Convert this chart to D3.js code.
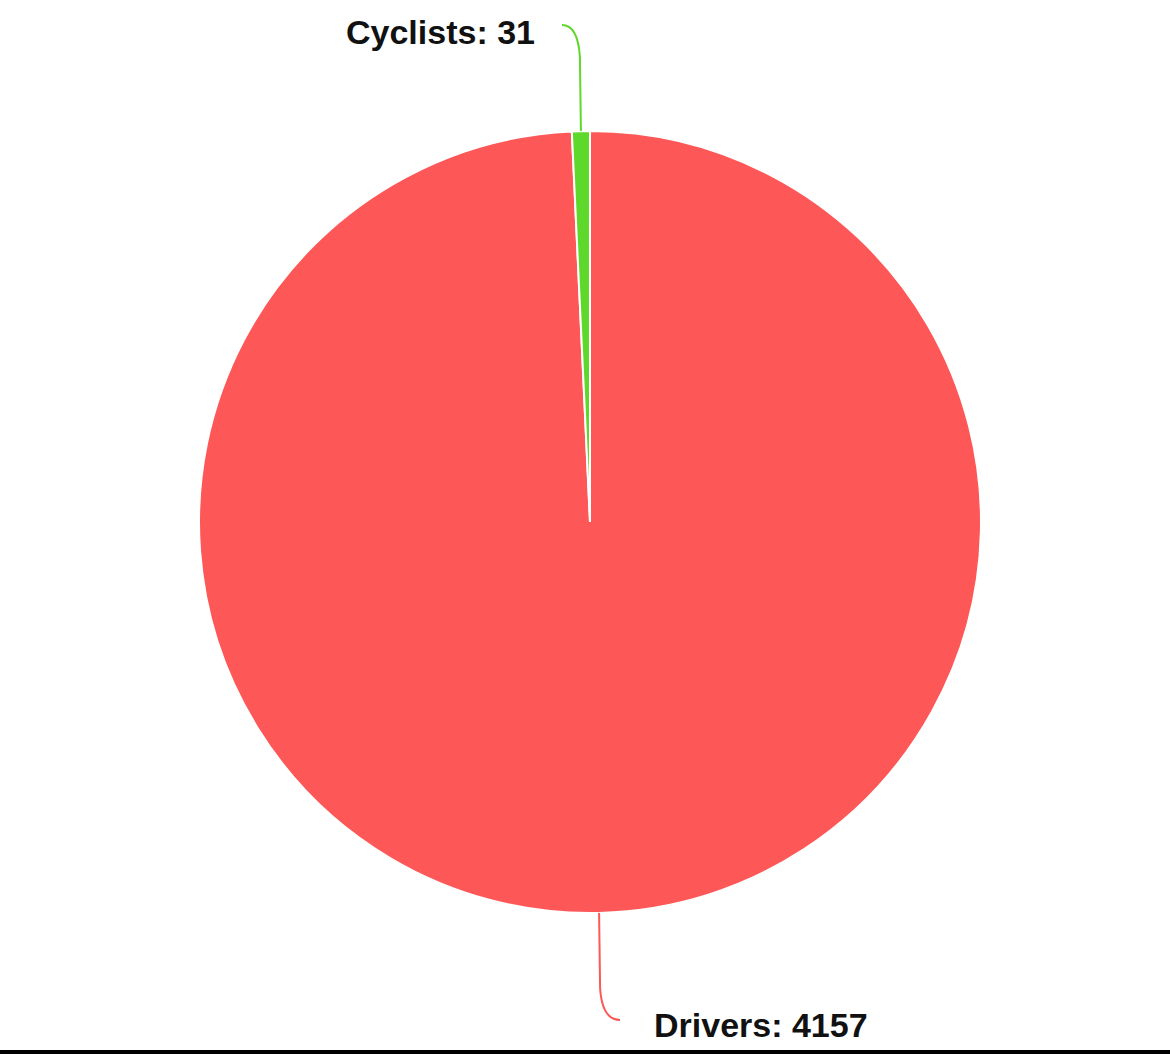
<!DOCTYPE html>
<html>
<head>
<meta charset="utf-8">
<script src="https://cdn.jsdelivr.net/npm/d3@7"></script>
<style>
  body { margin: 0; background: #fff; }
  text { font-family: "Liberation Sans", Arial, sans-serif; font-weight: bold; }
</style>
</head>
<body>
<div id="container"></div>
<script>
const categories = ["Drivers", "Cyclists"]
const values = [4157, 31]
const colors = ["#fe5757", "#5ed82a"]

const width = 1170
const height = 1054
const cx = 590, cy = 522, radius = 391

const svg = d3.select('#container')
    .append('svg').attr('width', width).attr('height', height)

const data = categories.map((c, i) => ({ name: c, value: values[i], color: colors[i] }))
const pie = d3.pie().sort(null).value(d => d.value)
const arc = d3.arc().innerRadius(0).outerRadius(radius)
const arcs = pie(data)

const g = svg.append("g").attr("transform", `translate(${cx},${cy})`)

g.selectAll("path.slice")
    .data(arcs)
    .enter().append("path")
    .attr("class", "slice")
    .attr("d", arc)
    .attr("fill", d => d.data.color)
    .attr("stroke", "#fff")
    .attr("stroke-width", 2)

// leader lines: start on the rim at each slice's mid angle, go straight out, then curl to the label
const labelPos = {
    Drivers: { end: [30, 498], text: [64, 515], anchor: "start", dir: 1 },
    Cyclists: { end: [-28, -497], text: [-55, -478], anchor: "end", dir: -1 }
}

arcs.forEach(d => {
    const mid = (d.startAngle + d.endAngle) / 2
    const sx = Math.sin(mid) * radius
    const sy = -Math.cos(mid) * radius
    const p = labelPos[d.data.name]
    const ex = p.end[0], ey = p.end[1]
    const side = ex > sx ? 1 : -1
    const turnY = ey - p.dir * 32
    const path = d3.path()
    path.moveTo(sx, sy)
    path.lineTo(sx + side * 1, turnY)
    path.quadraticCurveTo(sx + side * 3, ey, ex, ey)
    g.append("path")
        .attr("d", path.toString())
        .attr("fill", "none")
        .attr("stroke", d.data.color)
        .attr("stroke-width", 2)
    g.append("text")
        .attr("x", p.text[0])
        .attr("y", p.text[1])
        .attr("text-anchor", p.anchor)
        .attr("font-size", 34)
        .attr("fill", "#111")
        .text(`${d.data.name}: ${d.data.value}`)
})

// bottom frame line
svg.append("rect").attr("x", 0).attr("y", 1050).attr("width", width).attr("height", 4).attr("fill", "#000")
</script>
</body>
</html>
